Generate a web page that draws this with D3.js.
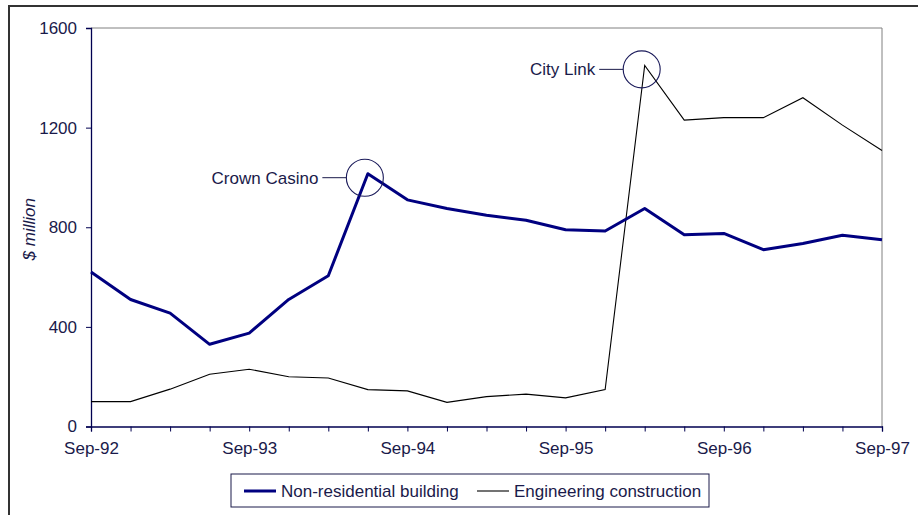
<!DOCTYPE html>
<html>
<head>
<meta charset="utf-8">
<script src="https://cdn.jsdelivr.net/npm/d3@7"></script>
<style>
  body { margin: 0; background: #fff; }
  svg { display: block; font-family: "Liberation Sans", Arial, sans-serif; }
</style>
</head>
<body>
<svg id="chart" width="918" height="515"></svg>
<script>
// quarterly values, Sep-92 .. Sep-97
const quarters = ["Sep-92","Dec-92","Mar-93","Jun-93","Sep-93","Dec-93","Mar-94","Jun-94",
  "Sep-94","Dec-94","Mar-95","Jun-95","Sep-95","Dec-95","Mar-96","Jun-96",
  "Sep-96","Dec-96","Mar-97","Jun-97","Sep-97"];
const nonResidential = [620, 510, 455, 330, 375, 510, 605, 1015, 910, 875, 848, 828,
  790, 785, 875, 770, 775, 710, 735, 768, 750];
const engineering = [100, 100, 150, 210, 230, 200, 195, 148, 143, 97, 120, 130,
  115, 148, 1450, 1230, 1240, 1240, 1320, 1210, 1108];
const yTicks = [0, 400, 800, 1200, 1600];
const xLabelIdx = [0, 4, 8, 12, 16, 20];
const notes = [
  {label: "Crown Casino", idx: 7, series: "nonResidential"},
  {label: "City Link", idx: 14, series: "engineering"}
];

const textCol = "#1a1a4a";
const fs = 17;
const svg = d3.select("#chart");

// outer frame
svg.append("rect").attr("x", 9).attr("y", 6).attr("width", 1000).attr("height", 600)
  .attr("fill", "none").attr("stroke", "#333").attr("stroke-width", 2);

const pLeft = 91, pRight = 882, pTop = 28, pBottom = 426.5;
const x = d3.scalePoint().domain(d3.range(quarters.length)).range([pLeft, pRight]);
const y = d3.scaleLinear().domain([0, 1600]).range([pBottom, pTop]);

// plot frame top/right
svg.append("path")
  .attr("d", `M${pLeft},${pTop}H${pRight}V${pBottom}`)
  .attr("fill", "none").attr("stroke", "#808080").attr("stroke-width", 1);

// y axis
const yAxis = svg.append("g").attr("transform", `translate(${pLeft},0)`)
  .call(d3.axisLeft(y).tickValues(yTicks).tickSize(5).tickPadding(9).tickFormat(d3.format("d")));
// x axis
const xAxis = svg.append("g").attr("transform", `translate(0,${pBottom})`)
  .call(d3.axisBottom(x).tickSize(5).tickPadding(8)
    .tickFormat(i => xLabelIdx.includes(i) ? quarters[i] : ""));

[yAxis, xAxis].forEach(g => {
  g.select(".domain").attr("stroke", "#000050").attr("stroke-width", 1.3);
  g.selectAll(".tick line").attr("stroke", "#000050");
  g.selectAll(".tick text").attr("fill", textCol).attr("font-size", fs)
    .attr("font-family", "Liberation Sans, Arial, sans-serif");
});
xAxis.selectAll(".tick text").attr("dy", "0.85em");

svg.append("text")
  .attr("transform", `translate(35,${(pTop + pBottom) / 2 + 2}) rotate(-90)`)
  .attr("text-anchor", "middle").attr("font-size", fs).attr("font-style", "italic")
  .attr("fill", textCol).text("$ million");

const line = d3.line().x((d, i) => x(i)).y(d => y(d));

svg.append("path").datum(engineering).attr("d", line)
  .attr("fill", "none").attr("stroke", "#000").attr("stroke-width", 1.1);
svg.append("path").datum(nonResidential).attr("d", line)
  .attr("fill", "none").attr("stroke", "#000080").attr("stroke-width", 3)
  .attr("stroke-linejoin", "round");

// annotations
const seriesMap = {nonResidential, engineering};
notes.forEach(n => {
  const cx = x(n.idx) - 3, cy = y(seriesMap[n.series][n.idx]) + 4;
  const r = 18.5;
  svg.append("circle").attr("cx", cx).attr("cy", cy).attr("r", r)
    .attr("fill", "none").attr("stroke", "#1a1a5a").attr("stroke-width", 1.1);
  svg.append("line").attr("x1", cx - r - 24).attr("x2", cx - r).attr("y1", cy).attr("y2", cy)
    .attr("stroke", "#1a1a4a").attr("stroke-width", 1);
  svg.append("text").attr("x", cx - r - 28).attr("y", cy + 6)
    .attr("text-anchor", "end").attr("font-size", fs).attr("fill", textCol).text(n.label);
});

// legend
const lg = svg.append("g");
lg.append("rect").attr("x", 231).attr("y", 474).attr("width", 478).attr("height", 33)
  .attr("fill", "#fff").attr("stroke", "#1a1a4a").attr("stroke-width", 1);
const legendItems = [
  {name: "Non-residential building", color: "#000080", w: 3, x: 244},
  {name: "Engineering construction", color: "#000", w: 1.1, x: 477}
];
legendItems.forEach(d => {
  lg.append("line").attr("x1", d.x).attr("x2", d.x + 32).attr("y1", 491).attr("y2", 491)
    .attr("stroke", d.color).attr("stroke-width", d.w);
  lg.append("text").attr("x", d.x + 37).attr("y", 497).attr("font-size", fs)
    .attr("fill", textCol).text(d.name);
});
</script>
</body>
</html>
